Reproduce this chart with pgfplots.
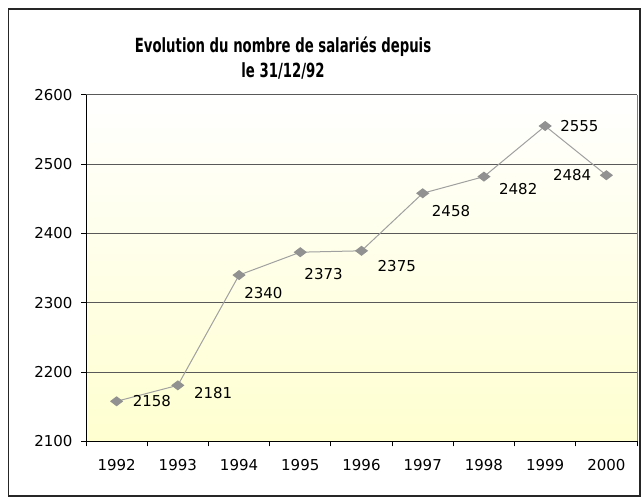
\documentclass[border=0pt]{standalone}
\usepackage{fontspec}
\setmainfont{DejaVu Sans}
\newfontfamily\titlefont[FakeStretch=0.68]{DejaVu Sans}
\usepackage{pgfplots}
\pgfplotsset{compat=1.18}
\definecolor{ptgray}{RGB}{145,145,145}
\definecolor{lngray}{RGB}{160,160,160}
\definecolor{bgyel}{RGB}{255,255,208}
\pgfplotsset{
  lbl/.style n args={3}{draw=none, mark=none, forget plot,
    point meta=explicit symbolic, nodes near coords,
    every node near coord/.append style={anchor=#1, xshift=#2, yshift=#3,
      inner sep=0pt, font=\fontsize{15}{18}\selectfont, text=black}},
}
\begin{document}
\begin{tikzpicture}[x=1pt,y=1pt]
\path[use as bounding box] (0,0) rectangle (644,497);
\draw[line width=1.3pt, black!85] (8.5,1) rectangle (640,488);
\node[font=\titlefont\bfseries\fontsize{19.5}{22}\selectfont, anchor=base, inner sep=0pt] at (283,444.3) {Evolution du nombre de salariés depuis};
\node[font=\titlefont\bfseries\fontsize{19.5}{22}\selectfont, anchor=base, inner sep=0pt] at (283,419.5) {le 31/12/92};
\begin{axis}[
  at={(86pt,55.5pt)}, anchor=south west,
  width=551pt, height=346.7pt, scale only axis,
  xmin=-0.5, xmax=8.5, ymin=2100, ymax=2600,
  ytick={2100,2200,...,2600},
  xtick={0,...,8},
  xticklabels={1992,1993,1994,1995,1996,1997,1998,1999,2000},
  minor xtick={-0.5,0.5,...,8.5},
  major x tick style={draw=none},
  tick align=outside, major tick length=5pt, minor tick length=5pt,
  tick style={black, line width=0.8pt},
  axis x line*=bottom, axis y line*=left,
  axis line style={black, line width=0.9pt, -},
  ymajorgrids, grid style={black!65, line width=0.9pt},
  axis background/.style={top color=white, bottom color=bgyel},
  /pgf/number format/.cd, 1000 sep={}, assume math mode=true,
  /pgfplots/.cd,
  ticklabel style={font=\fontsize{15}{18}\selectfont},
  yticklabel style={xshift=-5pt},
  xticklabel style={yshift=-9pt},
  clip=false,
]
\draw[lngray!80!black, line width=0.9pt] (rel axis cs:1,0) -- (rel axis cs:1,1);
\addplot[lngray, line width=1pt, mark=diamond*,
  mark options={fill=ptgray, draw=ptgray, xscale=1.75}, mark size=4.4pt]
  coordinates {(0,2158) (1,2181) (2,2340) (3,2373) (4,2375) (5,2458) (6,2482) (7,2555) (8,2484)};
\addplot[lbl={west}{16pt}{0pt}]   coordinates {(0,2158) [2158]};
\addplot[lbl={west}{16pt}{-8pt}]  coordinates {(1,2181) [2181]};
\addplot[lbl={west}{5pt}{-18pt}]  coordinates {(2,2340) [2340]};
\addplot[lbl={west}{4pt}{-22pt}]  coordinates {(3,2373) [2373]};
\addplot[lbl={west}{16pt}{-15pt}] coordinates {(4,2375) [2375]};
\addplot[lbl={west}{9pt}{-18pt}]  coordinates {(5,2458) [2458]};
\addplot[lbl={west}{15pt}{-12pt}] coordinates {(6,2482) [2482]};
\addplot[lbl={west}{15pt}{0pt}]   coordinates {(7,2555) [2555]};
\addplot[lbl={east}{-15pt}{0pt}]  coordinates {(8,2484) [2484]};
\end{axis}
\end{tikzpicture}
\end{document}
